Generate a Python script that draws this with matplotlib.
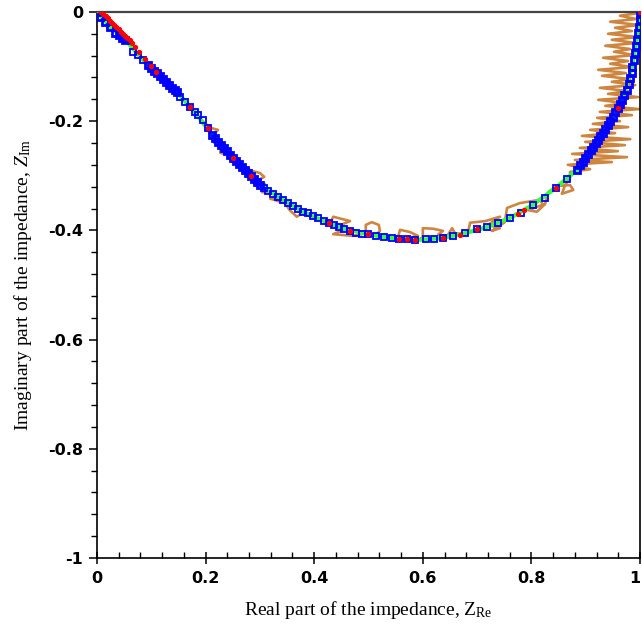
import matplotlib
matplotlib.use("Agg")
import matplotlib.pyplot as plt
from matplotlib.ticker import MultipleLocator, FixedLocator

# ---------------- data ----------------
# model curve (green line)
model_x = [0.0, 0.024, 0.052, 0.085, 0.116, 0.147, 0.180, 0.212, 0.245, 0.278,
           0.308, 0.343, 0.379, 0.418, 0.455, 0.499, 0.543, 0.586, 0.637, 0.678,
           0.718, 0.761, 0.803, 0.845, 0.884, 0.913, 0.941, 0.967, 0.985, 0.994, 1.0]
model_y = [0.0, -0.027, -0.051, -0.088, -0.117, -0.147, -0.183, -0.225, -0.262, -0.295,
           -0.322, -0.344, -0.366, -0.383, -0.397, -0.407, -0.414, -0.418, -0.414, -0.405,
           -0.394, -0.377, -0.353, -0.322, -0.289, -0.247, -0.207, -0.161, -0.101, -0.051, 0.0]

# blue square markers where they crowd into solid bands
band_x = [0.0, 0.006, 0.015, 0.024, 0.033, 0.040, 0.046, 0.052,
          0.094, 0.099, 0.105, 0.110, 0.116, 0.122, 0.127, 0.133, 0.138, 0.144, 0.147,
          0.212, 0.217, 0.223, 0.228, 0.234, 0.239, 0.245, 0.250, 0.256, 0.262, 0.267,
          0.273, 0.278, 0.284, 0.289, 0.295, 0.300,
          0.884, 0.889, 0.894, 0.899, 0.904, 0.909, 0.913, 0.918, 0.923, 0.927, 0.932,
          0.936, 0.941, 0.945, 0.950, 0.954, 0.959, 0.963, 0.967, 0.971, 0.976, 0.979,
          0.982, 0.985, 0.986, 0.988, 0.991, 0.993, 0.994, 0.996, 0.998, 0.999, 1.0]
band_y = [0.0, -0.009, -0.018, -0.027, -0.038, -0.043, -0.048, -0.051,
          -0.097, -0.103, -0.108, -0.112, -0.117, -0.123, -0.128, -0.134, -0.139, -0.143, -0.147,
          -0.225, -0.231, -0.238, -0.244, -0.249, -0.255, -0.262, -0.267, -0.273, -0.278, -0.284,
          -0.289, -0.295, -0.300, -0.306, -0.311, -0.317,
          -0.289, -0.281, -0.274, -0.267, -0.260, -0.253, -0.247, -0.240, -0.234, -0.228, -0.222,
          -0.215, -0.207, -0.200, -0.192, -0.184, -0.176, -0.169, -0.161, -0.152, -0.143, -0.132,
          -0.121, -0.111, -0.101, -0.088, -0.075, -0.063, -0.051, -0.039, -0.027, -0.014, -0.002]

# blue square markers that stand apart
sparse_x = [0.066, 0.076, 0.085,
            0.153, 0.162, 0.171, 0.180, 0.186, 0.195, 0.204,
            0.308, 0.315, 0.324, 0.333, 0.343, 0.352, 0.361, 0.370,
            0.379, 0.389, 0.398, 0.407, 0.418, 0.427, 0.436, 0.446, 0.455, 0.466, 0.477,
            0.488, 0.499, 0.514, 0.529, 0.543, 0.556, 0.571, 0.586, 0.606, 0.621, 0.637,
            0.656, 0.678, 0.700, 0.718, 0.738, 0.761, 0.781, 0.803, 0.825, 0.845, 0.866]
sparse_y = [-0.073, -0.079, -0.088,
            -0.156, -0.165, -0.174, -0.183, -0.189, -0.198, -0.212,
            -0.322, -0.328, -0.333, -0.339, -0.344, -0.350, -0.355, -0.361,
            -0.366, -0.368, -0.374, -0.377, -0.383, -0.386, -0.390, -0.394, -0.397, -0.401, -0.404,
            -0.406, -0.407, -0.410, -0.412, -0.414, -0.416, -0.416, -0.418, -0.416, -0.416, -0.414,
            -0.410, -0.405, -0.397, -0.394, -0.386, -0.377, -0.368, -0.353, -0.341, -0.322, -0.306]

# red markers
red_x = [0.004, 0.008, 0.012, 0.016, 0.020, 0.024, 0.028, 0.032, 0.036, 0.040, 0.044,
         0.048, 0.052, 0.056, 0.060, 0.064, 0.070, 0.078, 0.088, 0.100, 0.108,
         0.171, 0.204, 0.250, 0.284, 0.427, 0.466, 0.499, 0.556, 0.571, 0.586, 0.637,
         0.668, 0.700, 0.776, 0.787, 0.845, 0.959, 1.0]
red_y = [0.004, 0.000, -0.004, -0.008, -0.012, -0.016, -0.020, -0.024, -0.028, -0.032, -0.036,
         -0.040, -0.044, -0.048, -0.052, -0.057, -0.064, -0.074, -0.086, -0.099, -0.110,
         -0.174, -0.212, -0.267, -0.300, -0.386, -0.401, -0.407, -0.416, -0.416, -0.418, -0.414,
         -0.408, -0.397, -0.370, -0.362, -0.322, -0.176, 0.0]

# noisy (orange) curve
noisy_x = [0.125, 0.144, 0.153, 0.162, 0.180, 0.195, 0.208, 0.223, 0.212, 0.216, 0.228,
           0.227, 0.241, 0.263, 0.285, 0.300, 0.308, 0.297, 0.309, 0.304, 0.328, 0.339,
           0.319, 0.346, 0.355, 0.368, 0.379, 0.407,
           0.429, 0.435, 0.466, 0.444, 0.462, 0.435, 0.470, 0.488,
           0.495, 0.495, 0.506, 0.519, 0.521, 0.512, 0.536,
           0.554, 0.558, 0.576, 0.591, 0.565, 0.595,
           0.600, 0.600, 0.619, 0.637, 0.628, 0.645, 0.654, 0.659, 0.678,
           0.683, 0.687, 0.715, 0.742, 0.720, 0.742, 0.727, 0.751,
           0.755, 0.779, 0.816, 0.821, 0.794, 0.810, 0.825,
           0.831, 0.847, 0.871, 0.877, 0.856, 0.862, 0.871,
           0.871, 0.908, 0.867, 0.948, 0.880, 0.976, 0.875, 0.959, 0.889, 0.972,
           0.899, 0.982, 0.893, 0.954, 0.908, 0.978, 0.913, 0.963, 0.921, 0.985,
           0.926, 0.998, 0.936, 0.972, 0.923, 0.996, 0.941, 0.978, 0.926, 0.991,
           0.948, 0.982, 0.930, 0.974, 0.923, 0.985, 0.945, 0.978, 0.932, 0.991,
           0.952, 0.982, 0.936, 0.993, 0.948, 0.996, 0.941, 0.985, 0.954, 0.998,
           0.945, 0.993, 0.963, 0.998]
noisy_y = [-0.134, -0.147, -0.150, -0.165, -0.183, -0.200, -0.212, -0.216, -0.227, -0.240, -0.245,
           -0.258, -0.262, -0.280, -0.291, -0.295, -0.302, -0.308, -0.315, -0.330, -0.333, -0.341,
           -0.342, -0.350, -0.363, -0.375, -0.368, -0.379,
           -0.388, -0.375, -0.383, -0.392, -0.396, -0.407, -0.410, -0.407,
           -0.405, -0.390, -0.385, -0.390, -0.401, -0.410, -0.414,
           -0.414, -0.399, -0.403, -0.410, -0.416, -0.416,
           -0.412, -0.396, -0.397, -0.401, -0.408, -0.410, -0.396, -0.405, -0.407,
           -0.405, -0.386, -0.383, -0.375, -0.390, -0.396, -0.401, -0.385,
           -0.359, -0.350, -0.344, -0.353, -0.363, -0.366, -0.352,
           -0.330, -0.319, -0.317, -0.326, -0.333, -0.317, -0.304,
           -0.293, -0.288, -0.280, -0.275, -0.271, -0.266, -0.260, -0.255, -0.249, -0.244,
           -0.238, -0.233, -0.227, -0.222, -0.216, -0.211, -0.205, -0.200, -0.194, -0.189,
           -0.183, -0.178, -0.172, -0.167, -0.161, -0.156, -0.150, -0.145, -0.139, -0.134,
           -0.128, -0.123, -0.117, -0.112, -0.106, -0.101, -0.095, -0.090, -0.084, -0.079,
           -0.073, -0.068, -0.062, -0.057, -0.051, -0.046, -0.040, -0.035, -0.029, -0.024,
           -0.018, -0.013, -0.007, -0.002]

x_ticks = [0, 0.2, 0.4, 0.6, 0.8, 1]
x_ticklabels = ["0", "0.2", "0.4", "0.6", "0.8", "1"]
y_ticks = [-1, -0.8, -0.6, -0.4, -0.2, 0]
y_ticklabels = ["-1", "-0.8", "-0.6", "-0.4", "-0.2", "0"]

# ---------------- figure ----------------
plt.rcParams['mathtext.fontset'] = 'custom'
plt.rcParams['mathtext.rm'] = 'Liberation Serif'
plt.rcParams['mathtext.it'] = 'Liberation Serif:italic'

fig = plt.figure(figsize=(6.42, 6.27), dpi=100)
ax = fig.add_axes([0.151, 0.110, 0.846, 0.871])

ax.plot(noisy_x, noisy_y, color='#CD853F', lw=1.9, zorder=2)
ax.plot(model_x, model_y, color='#33FF33', lw=3.0, zorder=3)
ax.plot(band_x, band_y, linestyle='none', marker='s', markersize=4.6,
        markerfacecolor='none', markeredgecolor='#0000FF', markeredgewidth=2.0, zorder=4)
ax.plot(sparse_x, sparse_y, linestyle='none', marker='s', markersize=3.8,
        markerfacecolor='none', markeredgecolor='#0000FF', markeredgewidth=1.3, zorder=4)
ax.plot(red_x, red_y, linestyle='none', marker='o', markersize=2.8,
        markerfacecolor='#FF0000', markeredgecolor='#FF0000', zorder=5)

ax.set_xlim(0, 1)
ax.set_ylim(-1, 0)

for s in ['left', 'bottom', 'right']:
    ax.spines[s].set_color('black')
    ax.spines[s].set_linewidth(1.2)
ax.spines['top'].set_color('#444444')
ax.spines['top'].set_linewidth(1.6)

ax.xaxis.set_major_locator(FixedLocator(x_ticks))
ax.yaxis.set_major_locator(FixedLocator(y_ticks))
ax.xaxis.set_minor_locator(MultipleLocator(0.04))
ax.yaxis.set_minor_locator(MultipleLocator(0.04))
ax.set_xticklabels(x_ticklabels)
ax.set_yticklabels(y_ticklabels)

ax.tick_params(axis='x', which='major', direction='inout', length=8, width=1.1, pad=5)
ax.tick_params(axis='x', which='minor', direction='in', length=4, width=1.0)
ax.tick_params(axis='y', which='major', direction='out', length=6, width=1.1, pad=4)
ax.tick_params(axis='y', which='minor', direction='out', length=4, width=1.0)
ax.tick_params(top=False, right=False)

for lab in ax.get_xticklabels() + ax.get_yticklabels():
    lab.set_fontweight('bold')
    lab.set_fontsize(11.5)
    lab.set_family('DejaVu Sans')
ax.get_xticklabels()[-1].set_horizontalalignment('right')

ax.set_xlabel(r"Real part of the impedance, Z$_{\mathrm{Re}}$",
              family='Liberation Serif', fontsize=14, labelpad=10)
ax.set_ylabel(r"Imaginary part of the impedance, $Z_{\mathrm{Im}}$",
              family='Liberation Serif', fontsize=14, labelpad=10)

fig.savefig("out.png", dpi=100)
